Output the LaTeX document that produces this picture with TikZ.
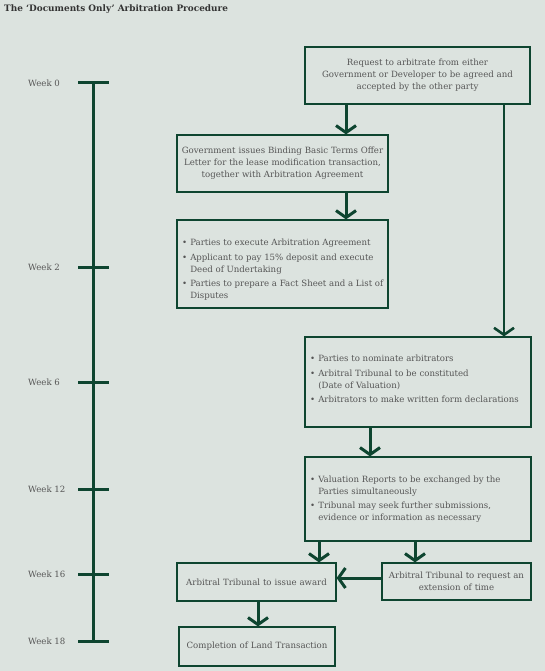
\documentclass[tikz,border=0pt]{standalone}
\usepackage{fontspec}
\setmainfont{DejaVu Serif}
\usetikzlibrary{arrows.meta}
\definecolor{bgc}{HTML}{DCE3DF}
\definecolor{dgreen}{HTML}{0E4530}
\definecolor{txt}{HTML}{555555}
\newcommand\bb{\textbullet}
\tikzset{
  box/.style={draw=dgreen, line width=1.2pt, rectangle, inner sep=0pt, text=txt,
    font=\fontsize{8.6}{12}\selectfont},
  cbox/.style={box, align=center},
  btxt/.style={anchor=west, inner sep=0pt, text=txt, align=left, font=\fontsize{8.6}{12}\selectfont},
  arr/.style={draw=dgreen, line width=3pt, -{Straight Barb[length=7pt,width=20pt]}},
  tarr/.style={draw=dgreen, line width=1.8pt, -{Straight Barb[length=7pt,width=20pt,line width=2.6pt]}},
  tline/.style={draw=dgreen, line width=3pt},
  wk/.style={anchor=west, text=txt, font=\fontsize{8.6}{10}\selectfont, inner sep=0pt},
}
\begin{document}
\begin{tikzpicture}[x=1pt,y=-1pt]
\fill[bgc] (0,0) rectangle (545,671);
\useasboundingbox (0,0) rectangle (545,671);
\node[anchor=west, inner sep=0pt, text=black!80, font=\bfseries\fontsize{8.9}{10}\selectfont] (title) at (4,9) {The ‘Documents Only’ Arbitration Procedure};

% timeline
\coordinate (tt) at (93,83);
\coordinate (tb) at (93,641);
\draw[tline] (tt) -- (tb);
\foreach \y/\w in {83/0,267/2,382/6,489/12,574/16,641/18}{
  \draw[tline] (78,\y) -- (109,\y);
  \node[wk] (w\w) at (28,\y) {Week \w};
}

% boxes
\node[cbox, minimum width=225, minimum height=57, text width=221] (req) at (417.5,75.5)
  {Request to arbitrate from either\\Government or Developer to be agreed and\\accepted by the other party};
\node[cbox, minimum width=211, minimum height=57, text width=209] (gov) at (282.5,163.5)
  {Government issues Binding Basic Terms Offer\\Letter for the lease modification transaction,\\together with Arbitration Agreement};

\node[box, minimum width=211, minimum height=88] (b1) at (282.5,264) {};
\node[btxt] (b1t) at (182,270)
  {\begin{tabular}{@{}l@{\hspace{3pt}}l@{}}
   \bb & Parties to execute Arbitration Agreement\\[2.5pt]
   \bb & Applicant to pay 15\% deposit and execute\\
       & Deed of Undertaking\\[2.5pt]
   \bb & Parties to prepare a Fact Sheet and a List of\\
       & Disputes
   \end{tabular}};

\node[box, minimum width=226, minimum height=90] (b2) at (418,382) {};
\node[btxt] (b2t) at (310,380)
  {\begin{tabular}{@{}l@{\hspace{3pt}}l@{}}
   \bb & Parties to nominate arbitrators\\[2.5pt]
   \bb & Arbitral Tribunal to be constituted\\
       & (Date of Valuation)\\[2.5pt]
   \bb & Arbitrators to make written form declarations
   \end{tabular}};

\node[box, minimum width=226, minimum height=84] (b3) at (418,499) {};
\node[btxt] (b3t) at (310,499)
  {\begin{tabular}{@{}l@{\hspace{3pt}}l@{}}
   \bb & Valuation Reports to be exchanged by the\\
       & Parties simultaneously\\[2.5pt]
   \bb & Tribunal may seek further submissions,\\
       & evidence or information as necessary
   \end{tabular}};

\node[cbox, minimum width=159, minimum height=38, text width=155] (award) at (256.5,582)
  {Arbitral Tribunal to issue award};
\node[cbox, minimum width=149, minimum height=37, text width=147] (ext) at (456.5,581.5)
  {Arbitral Tribunal to request an\\extension of time};
\node[cbox, minimum width=156, minimum height=39, text width=152] (comp) at (257,646.5)
  {Completion of Land Transaction};

% connectors
\draw[arr] (req.south -| 346,0) -- (gov.north -| 346,0);
\draw[arr] (gov.south -| 346,0) -- (b1.north -| 346,0);
\draw[tarr] (req.south -| 504,0) -- (b2.north -| 504,0);
\draw[arr] (b2.south -| 370,0) -- (b3.north -| 370,0);
\draw[arr] (b3.south -| 319,0) -- (award.north -| 319,0);
\draw[arr] (b3.south -| 415,0) -- (ext.north -| 415,0);
\draw[arr] (ext.west |- 0,578) -- (award.east |- 0,578);
\draw[arr] (award.south -| 258,0) -- (comp.north -| 258,0);
\end{tikzpicture}
\end{document}
